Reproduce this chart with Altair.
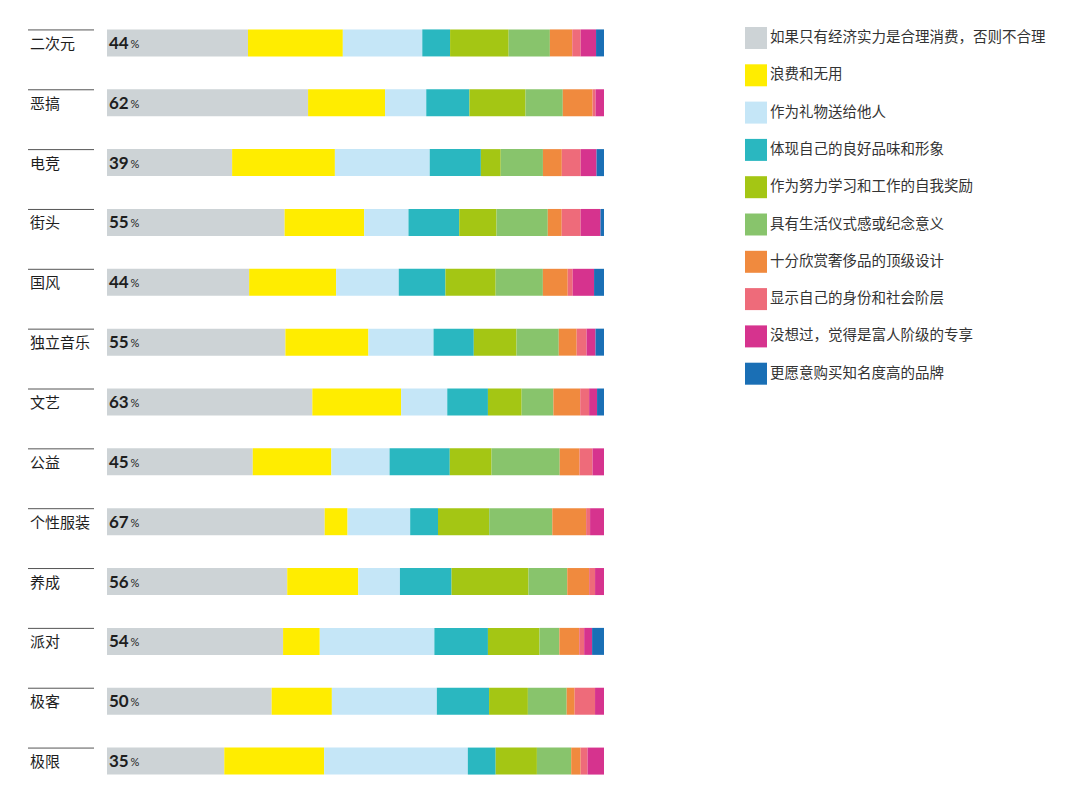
import altair as alt
import pandas as pd

categories = ["二次元", "恶搞", "电竞", "街头", "国风", "独立音乐", "文艺", "公益", "个性服装", "养成", "派对", "极客", "极限"]
labels = [44, 62, 39, 55, 44, 55, 63, 45, 67, 56, 54, 50, 35]

series = ["如果只有经济实力是合理消费，否则不合理", "浪费和无用", "作为礼物送给他人", "体现自己的良好品味和形象",
          "作为努力学习和工作的自我奖励", "具有生活仪式感或纪念意义", "十分欣赏奢侈品的顶级设计",
          "显示自己的身份和社会阶层", "没想过，觉得是富人阶级的专享", "更愿意购买知名度高的品牌"]
colors = ["#CDD3D6", "#FFED00", "#C5E6F7", "#2AB7C0", "#A4C614", "#88C46C", "#F08A3E", "#EE6B7A", "#D6338E", "#1A6FB5"]

s0 = [28.4, 40.5, 25.2, 35.7, 28.6, 35.9, 41.4, 29.3, 43.8, 36.3, 35.5, 33.1, 23.6]
s1 = [19.1, 15.5, 20.7, 16.0, 17.5, 16.7, 17.9, 15.8, 4.6, 14.3, 7.4, 12.1, 20.1]
s2 = [16.0, 8.3, 19.1, 8.9, 12.6, 13.1, 9.3, 11.7, 12.6, 8.4, 23.1, 21.1, 28.9]
s3 = [5.6, 8.7, 10.3, 10.2, 9.4, 8.1, 8.2, 12.1, 5.6, 10.4, 10.8, 10.5, 5.6]
s4 = [11.8, 11.3, 4.0, 7.5, 10.1, 8.6, 6.8, 8.4, 10.3, 15.5, 10.4, 7.8, 8.3]
s5 = [8.3, 7.5, 8.5, 10.3, 9.5, 8.5, 6.4, 13.7, 12.7, 7.8, 4.0, 7.8, 6.9]
s6 = [4.5, 6.0, 3.8, 2.8, 5.0, 3.6, 5.4, 4.0, 6.8, 4.4, 4.0, 1.6, 1.9]
s7 = [1.7, 0.6, 3.8, 3.8, 1.0, 2.0, 1.8, 2.6, 0.8, 1.2, 1.0, 4.1, 1.4]
s8 = [3.1, 1.7, 3.2, 4.0, 4.3, 1.8, 1.6, 2.3, 2.8, 1.8, 1.6, 1.8, 3.3]
s9 = [1.6, 0.0, 1.5, 0.7, 2.0, 1.7, 1.4, 0.0, 0.0, 0.0, 2.4, 0.0, 0.0]
values = [s0, s1, s2, s3, s4, s5, s6, s7, s8, s9]

rows = []
for si, (name, vals) in enumerate(zip(series, values)):
    for ci, cat in enumerate(categories):
        rows.append({"cat": cat, "series": name, "order": si, "value": vals[ci]})
df = pd.DataFrame(rows)
lab_df = pd.DataFrame({"cat": categories, "num": [str(v) for v in labels]})

FONT = "Noto Sans CJK SC"
yenc = alt.Y("cat:N", sort=categories, axis=None,
             scale=alt.Scale(paddingInner=0.55, paddingOuter=0.275))

bars = alt.Chart(df).mark_bar(height=27).encode(
    x=alt.X("value:Q", stack="normalize", axis=None, scale=alt.Scale(domain=[0, 1], nice=False)),
    y=yenc,
    color=alt.Color("series:N", sort=series,
                    scale=alt.Scale(domain=series, range=colors),
                    legend=alt.Legend(title=None, orient="none", legendX=638, legendY=14,
                                      symbolType="square", symbolSize=484, symbolStrokeWidth=0,
                                      symbolOpacity=1,
                                      labelFont=FONT, labelFontSize=14.5, labelColor="#333333",
                                      labelOffset=3, rowPadding=15.3, labelLimit=400)),
    order=alt.Order("order:Q"),
)

num_text = alt.Chart(lab_df).mark_text(align="left", baseline="middle", font="Lato", fontWeight="bold",
                                       fontSize=17, color="#1e1e1e", dy=1).encode(
    x=alt.value(2), y=yenc, text="num:N")
pct_text = alt.Chart(lab_df).mark_text(align="left", baseline="middle", font="Lato",
                                       fontSize=11, color="#1e1e1e", dy=2).encode(
    x=alt.value(23.5), y=yenc, text=alt.value("%"))

cat_text = alt.Chart(lab_df).mark_text(align="left", baseline="middle", font=FONT,
                                       fontSize=15, color="#1e1e1e", dy=1).encode(
    x=alt.value(-77), y=yenc, text="cat:N")
cat_rule = alt.Chart(lab_df).mark_rule(color="#555555", strokeWidth=1, yOffset=-13).encode(
    x=alt.value(-79), x2=alt.value(-13), y=yenc)

chart = alt.layer(bars, num_text, pct_text, cat_text, cat_rule).properties(
    width=497, height=778,
    background="white",
    autosize=alt.AutoSizeParams(type="none"),
    padding={"left": 99, "top": 5, "right": 468, "bottom": 0},
).configure_view(strokeWidth=0, stroke=None)

chart.save("out.html", embed_options={"renderer": "svg", "actions": False})
